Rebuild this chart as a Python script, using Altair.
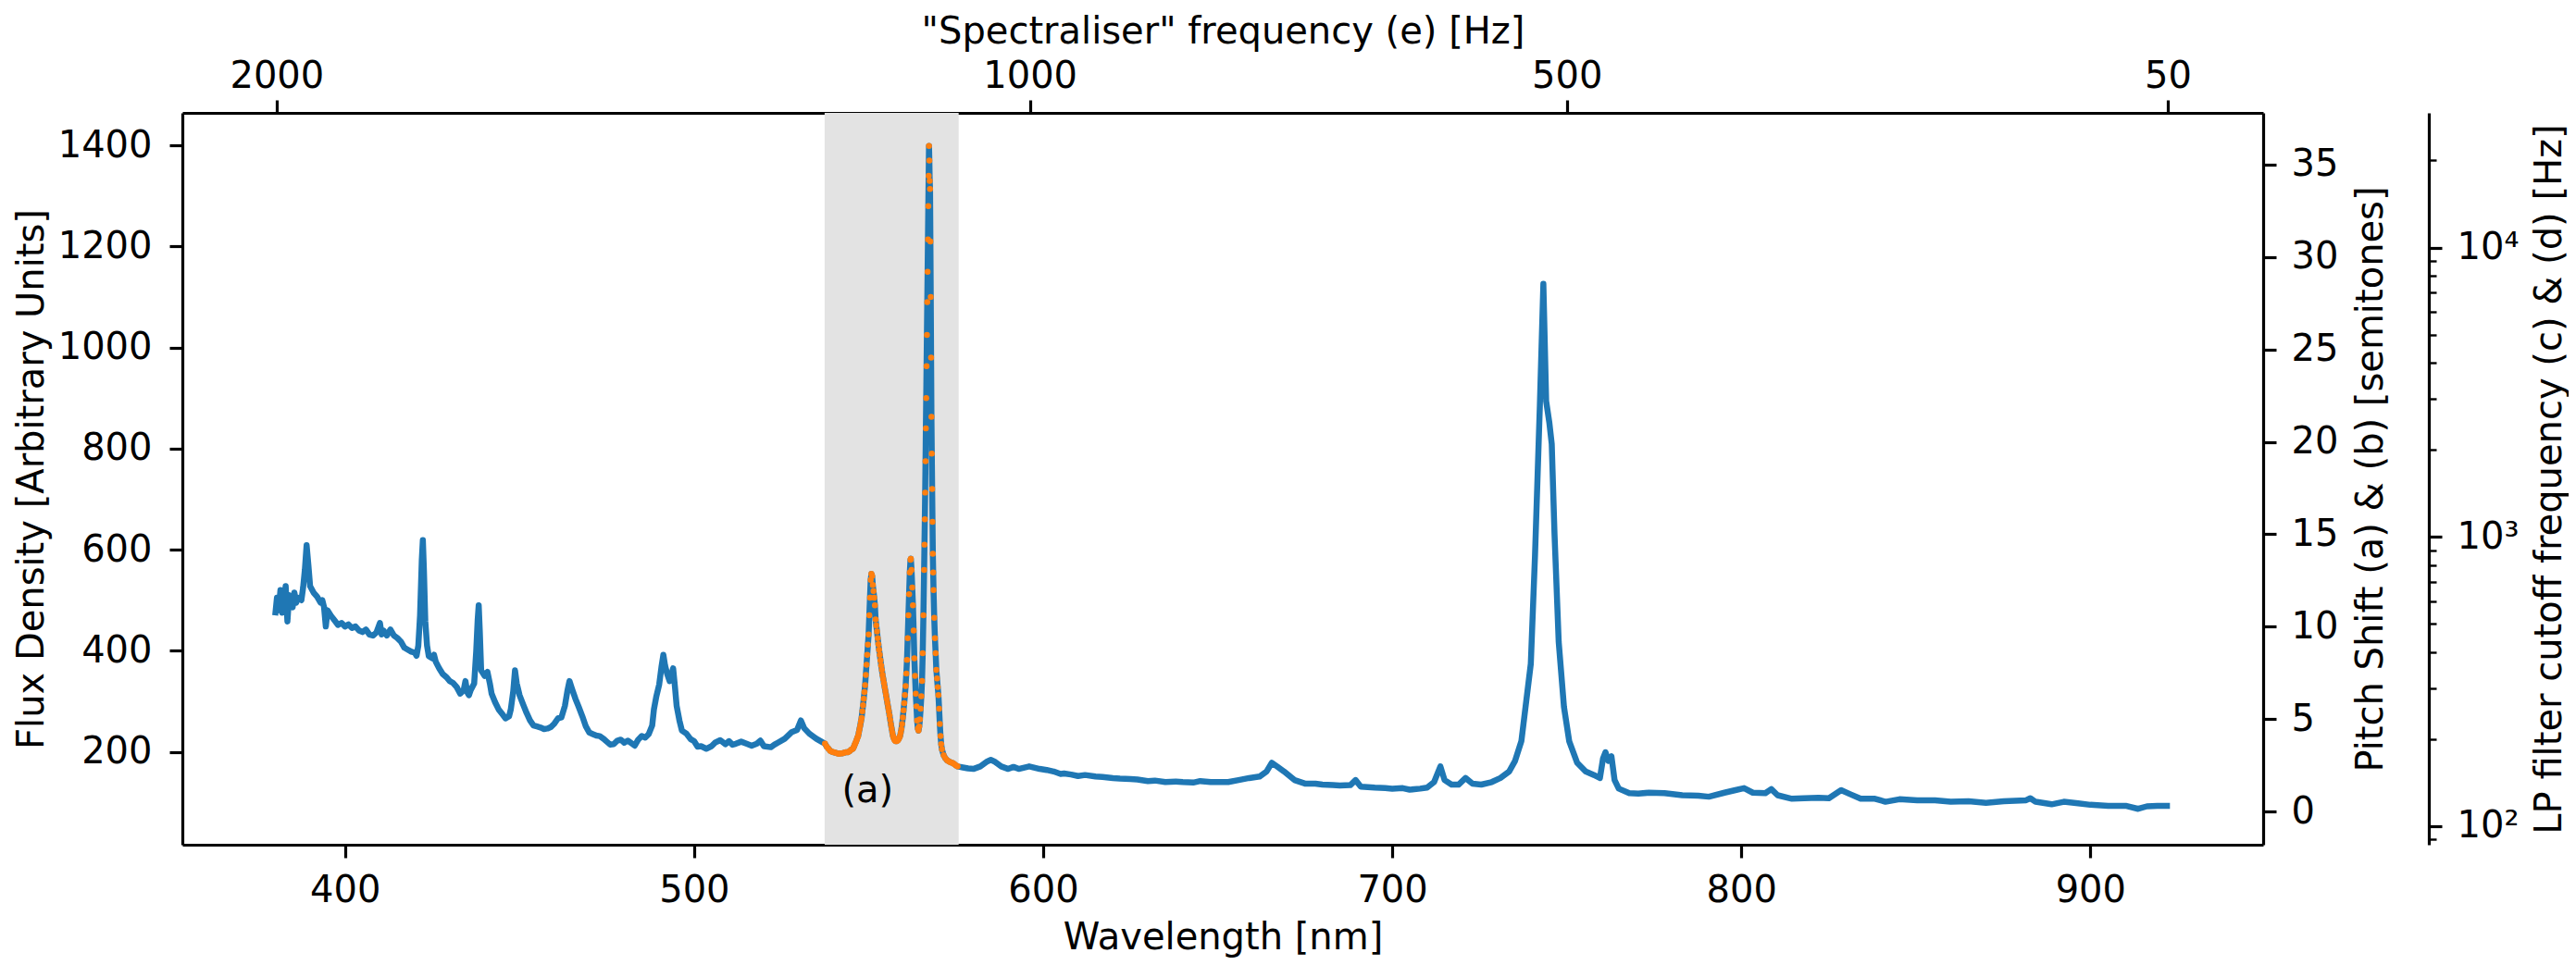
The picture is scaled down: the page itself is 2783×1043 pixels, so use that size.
import altair as alt
import pandas as pd

# ---------------- data ----------------
# spectrum left of the highlighted band
wl_left = [
    380.0, 380.5, 381.0, 381.5, 382.0, 382.5, 383.0, 383.5, 384.0, 384.5, 385.0, 385.5, 386.0, 386.5,
    387.5, 388.0, 388.5, 389.0, 389.5, 390.0, 391.0, 392.0, 393.0, 393.5, 394.0, 394.5, 395.0, 396.0,
    397.0, 398.0, 399.0, 400.0, 401.0, 402.0, 403.0, 404.0, 405.0, 406.0, 407.0, 408.0, 409.0, 410.0,
    410.5, 411.0, 412.0, 413.0, 414.0, 415.0, 416.0, 417.0, 418.0, 419.0, 420.0, 420.5, 421.0, 421.5,
    422.0, 422.3, 422.6, 423.0, 423.5, 424.0, 425.0, 425.5, 426.0, 427.0, 428.0, 429.0, 430.0, 431.0,
    432.0, 433.0, 434.0, 434.5, 435.0, 435.5, 436.0, 437.0, 437.6, 438.0, 438.3, 438.6, 439.0, 440.0,
    440.8, 441.5, 442.0, 443.0, 444.0, 445.0, 446.0, 447.0, 447.5, 448.2, 448.7, 449.2, 450.0, 451.0,
    452.0, 453.0, 454.0, 455.0, 456.0, 457.0, 458.0, 459.0, 460.0, 461.0, 462.0, 463.0, 463.7, 464.3,
    465.0, 466.0, 467.0, 468.0, 469.0, 470.0, 471.0, 472.0, 473.0, 474.0, 475.0, 476.0, 477.0, 478.0,
    479.0, 480.0, 481.0, 482.0, 483.0, 484.0, 485.0, 486.0, 487.0, 488.0, 488.5, 489.2, 490.0, 490.7,
    491.2, 491.7, 492.3, 493.0, 493.6, 494.0, 494.5, 495.0, 495.8, 496.5, 497.8, 499.0, 500.0, 501.0,
    502.0, 503.5, 505.0, 506.0, 507.5, 509.0, 510.0, 511.0, 512.0, 513.5, 515.0, 516.5, 518.0, 519.0,
    520.0, 522.0, 523.0, 524.0, 526.0, 528.0, 529.5, 530.6, 531.5, 533.0, 535.0, 536.5,
]
flux_left = [
    470, 505, 480, 520, 475, 500, 528, 458, 510, 490, 486, 515, 495, 505,
    500, 525, 560, 609, 570, 528, 515, 507, 495, 500, 486, 448, 480, 469,
    460, 451, 455, 448, 452, 445, 448, 440, 437, 442, 432, 430, 436, 455,
    432, 440, 430, 442, 430, 425, 418, 406, 402, 398, 396, 390, 410, 470,
    580, 619, 560, 458, 410, 389, 385, 392, 378, 365, 354, 348, 340, 336,
    328, 315, 322, 340, 318, 312, 322, 335, 400, 460, 490, 440, 361, 350,
    358, 335, 315, 298, 284, 275, 266, 270, 284, 320, 361, 335, 312, 294,
    277, 262, 252, 250, 248, 245, 246, 249, 256, 266, 268, 291, 320, 340,
    325, 305, 288, 270, 250, 238, 235, 232, 231, 226, 220, 214, 215, 222,
    224, 218, 222, 217, 212, 224, 231, 228, 235, 252, 284, 310, 333, 370,
    392, 370, 354, 340, 355, 365, 330, 291, 262, 242, 236, 225, 221, 210,
    211, 206, 211, 218, 223, 215, 221, 214, 216, 220, 216, 212, 216, 222,
    211, 209, 214, 218, 226, 239, 243, 262, 247, 236, 226, 220,
]

# spectrum samples inside the highlighted band (drawn again as orange dots)
wl_band = [
    537.5, 538.0, 538.5, 539.0, 539.5, 540.0, 540.5, 541.0, 541.5, 542.0, 542.5, 543.0, 543.5, 544.0,
    544.5, 545.0, 545.5, 545.8, 546.0, 546.2, 546.4, 546.6, 546.8, 547.0, 547.2, 547.4, 547.6, 547.8,
    548.0, 548.2, 548.4, 548.6, 548.8, 549.0, 549.2, 549.4, 549.6, 549.8, 550.0, 550.2, 550.4, 550.6,
    550.8, 551.0, 551.2, 551.4, 551.6, 551.8, 552.0, 552.2, 552.4, 552.6, 552.8, 553.0, 553.2, 553.4,
    553.6, 553.8, 554.0, 554.2, 554.4, 554.6, 554.8, 555.0, 555.2, 555.4, 555.6, 555.8, 556.0, 556.2,
    556.4, 556.6, 556.8, 557.0, 557.2, 557.4, 557.6, 557.8, 558.0, 558.2, 558.4, 558.6, 558.8, 559.0,
    559.2, 559.4, 559.6, 559.8, 560.0, 560.2, 560.4, 560.6, 560.8, 561.0, 561.2, 561.4, 561.6, 561.8,
    562.0, 562.1, 562.3, 562.5, 562.7, 562.9, 563.1, 563.3, 563.5, 563.7, 563.9, 564.1, 564.3, 564.5,
    564.7, 564.9, 565.1, 565.3, 565.5, 565.7, 565.9, 566.0, 566.1, 566.2, 566.3, 566.4, 566.5, 566.6,
    566.7, 566.8, 566.9, 567.0, 567.1, 567.2, 567.3, 567.4, 567.5, 567.6, 567.7, 567.8, 567.9, 568.0,
    568.1, 568.2, 568.3, 568.4, 568.5, 568.6, 568.8, 569.0, 569.2, 569.4, 569.6, 569.8, 570.0, 570.2,
    570.4, 570.6, 570.8, 571.0, 571.5, 572.0, 572.5, 573.0, 573.5, 574.0, 574.5, 575.0, 575.5,
]
flux_band = [
    216, 210, 206, 202, 200, 199, 198, 197, 196, 197, 197, 198, 199, 199,
    201, 204, 206, 210, 214, 217, 220, 224, 228, 231, 238, 245, 252, 260,
    267, 280, 292, 305, 318, 332, 352, 372, 392, 412, 432, 470, 505, 540,
    552, 548, 530, 518, 505, 490, 462, 450, 438, 425, 413, 402, 392, 381,
    371, 362, 352, 344, 336, 328, 320, 312, 304, 296, 288, 280, 272, 263,
    254, 246, 238, 231, 227, 224, 222, 221, 221, 222, 223, 225, 228, 231,
    238, 245, 255, 268, 282, 296, 312, 330, 355, 382, 425, 470, 512, 555,
    580, 582, 560, 525, 490, 440, 385, 350, 315, 290, 262, 246, 242, 250,
    264, 285, 310, 340, 395, 470, 560, 610, 660, 713, 775, 840, 900, 963,
    1025, 1090, 1150, 1214, 1280, 1340, 1399, 1370, 1330, 1314, 1210, 1100, 980, 863,
    790, 720, 655, 592, 555, 520, 465, 425, 395, 362, 345, 328, 312, 285,
    255, 231, 215, 205, 193, 187, 183, 181, 179, 178, 176, 173, 171,
]

# spectrum right of the highlighted band
wl_right = [
    577.0, 578.5, 580.0, 582.0, 584.0, 585.0, 586.0, 588.0, 590.0, 591.5, 593.0, 596.0, 599.0, 601.0,
    603.0, 605.0, 606.0, 608.0, 610.0, 612.0, 615.0, 617.0, 620.0, 622.0, 625.0, 627.0, 630.0, 632.0,
    635.0, 638.0, 640.0, 643.0, 645.0, 648.0, 650.0, 653.0, 656.0, 659.0, 662.0, 664.0, 665.5, 667.0,
    669.0, 672.0, 675.0, 678.0, 680.0, 683.0, 685.0, 688.0, 689.5, 691.0, 693.0, 695.0, 698.0, 700.0,
    703.0, 705.0, 708.0, 710.0, 712.0, 713.8, 715.0, 717.0, 719.0, 721.0, 723.0, 725.5, 728.5, 731.0,
    733.5, 735.2, 737.0, 738.2, 739.7, 740.9, 742.3, 743.3, 744.1, 745.0, 745.7, 746.5, 747.7, 749.2,
    750.7, 753.0, 755.4, 757.8, 759.5, 760.4, 761.1, 761.9, 762.8, 763.7, 764.9, 767.9, 770.5, 773.5,
    778.0, 783.1, 787.7, 790.7, 795.2, 798.3, 800.8, 803.3, 806.9, 808.6, 810.4, 814.5, 818.0, 822.1,
    825.1, 828.6, 831.2, 834.2, 838.3, 841.3, 845.3, 850.4, 855.5, 860.0, 865.1, 870.1, 875.2, 881.6,
    882.8, 884.3, 888.9, 892.4, 896.5, 900.0, 905.1, 910.1, 913.7, 916.2, 919.2, 922.8,
]
flux_right = [
    169, 167, 166, 171, 181, 184, 181, 171, 166, 170, 166, 171, 166, 164,
    161, 156, 157, 155, 152, 154, 151, 150, 148, 147, 146, 145, 142, 143,
    140, 141, 140, 139, 142, 140, 140, 140, 144, 148, 151, 161, 178, 171,
    161, 144, 137, 137, 135, 134, 133, 134, 144, 131, 130, 129, 128, 127,
    128, 125, 127, 129, 140, 171, 144, 135, 135, 148, 137, 135, 140, 148,
    161, 182, 221, 289, 374, 587, 886, 1126, 894, 852, 809, 630, 417, 289,
    221, 178, 161, 154, 148, 187, 199, 182, 191, 144, 127, 118, 117, 119,
    118, 114, 113, 111, 119, 124, 128, 119, 118, 126, 114, 107, 108, 109,
    108, 124, 116, 107, 107, 101, 106, 104, 104, 101, 102, 99, 102, 104,
    108, 101, 96, 101, 98, 95, 93, 93, 87, 92, 93, 93,
]

band_start_nm = [537.4]
band_end_nm = [575.8]

annotation_text = ["(a)"]
annotation_nm = [549.7]
annotation_flux = [123]

x_ticks_nm = [400, 500, 600, 700, 800, 900]
y_ticks_flux = [200, 400, 600, 800, 1000, 1200, 1400]
top_ticks_nm = [380.4, 596.2, 750.0, 922.2]
top_tick_labels = ["2000", "1000", "500", "50"]
pitch_ticks = [0, 5, 10, 15, 20, 25, 30, 35]
lp_major_ticks = [100, 1000, 10000]
lp_major_labels = ["10²", "10³", "10⁴"]
lp_minor_ticks = [90, 200, 300, 400, 500, 600, 700, 800, 900,
                  2000, 3000, 4000, 5000, 6000, 7000, 8000, 9000, 20000]

X_DOMAIN = [353.4, 949.5]
FLUX_DOMAIN = [16, 1464.5]
PITCH_DOMAIN = [-1.8, 37.8]
LP_DOMAIN = [86.3, 29200]

FONT = "DejaVu Sans"
BLUE = "#1f77b4"
ORANGE = "#ff7f0e"


def label_expr(values, labels):
    expr = "''"
    for v, lab in reversed(list(zip(values, labels))):
        expr = f"abs(datum.value - {v}) < {abs(v) * 1e-4 + 1e-6} ? '{lab}' : " + expr
    return expr


spec = pd.DataFrame({"wl": wl_left + wl_band + wl_right,
                     "flux": flux_left + flux_band + flux_right})
orange = pd.DataFrame({"wl": wl_band, "flux": flux_band})
band_df = pd.DataFrame({"start": band_start_nm, "end": band_end_nm})
ann_df = pd.DataFrame({"label": annotation_text, "wl": annotation_nm, "flux": annotation_flux})
top_df = pd.DataFrame({"nm": top_ticks_nm})
pitch_df = pd.DataFrame({"v": pitch_ticks})
lpM_df = pd.DataFrame({"v": lp_major_ticks})
lpm_df = pd.DataFrame({"v": lp_minor_ticks})

xs = alt.Scale(domain=X_DOMAIN, nice=False, zero=False)
ys = alt.Scale(domain=FLUX_DOMAIN, nice=False, zero=False)
ps = alt.Scale(domain=PITCH_DOMAIN, nice=False, zero=False)
ls = alt.Scale(type="log", domain=LP_DOMAIN, nice=False)

band = alt.Chart(band_df).mark_rect(color="#e3e3e3").encode(
    x=alt.X("start:Q", scale=xs, axis=None),
    x2="end:Q",
)

line = alt.Chart(spec).mark_line(color=BLUE, strokeWidth=6.5, strokeJoin="round").encode(
    x=alt.X("wl:Q", scale=xs,
            axis=alt.Axis(orient="bottom", values=x_ticks_nm, title="Wavelength [nm]",
                          titlePadding=11)),
    y=alt.Y("flux:Q", scale=ys,
            axis=alt.Axis(orient="left", values=y_ticks_flux, format="d",
                          title="Flux Density [Arbitrary Units]", labelPadding=19,
                          titlePadding=8)),
)

dots = alt.Chart(orange).mark_circle(color=ORANGE, size=42, opacity=1).encode(
    x=alt.X("wl:Q", scale=xs, axis=None),
    y=alt.Y("flux:Q", scale=ys, axis=None),
)

text = alt.Chart(ann_df).mark_text(font=FONT, fontSize=40, color="black",
                                   align="center", baseline="middle").encode(
    x=alt.X("wl:Q", scale=xs, axis=None),
    y=alt.Y("flux:Q", scale=ys, axis=None),
    text="label:N",
)

top = alt.Chart(top_df).mark_point(opacity=0).encode(
    x=alt.X("nm:Q", scale=xs,
            axis=alt.Axis(orient="top", values=top_ticks_nm,
                          labelExpr=label_expr(top_ticks_nm, top_tick_labels),
                          labelPadding=6,
                          title='"Spectraliser" frequency (e) [Hz]',
                          titleBaseline="alphabetic", titleY=-76)),
)

pitch = alt.Chart(pitch_df).mark_point(opacity=0).encode(
    y=alt.Y("v:Q", scale=ps,
            axis=alt.Axis(orient="right", values=pitch_ticks,
                          title="Pitch Shift (a) & (b) [semitones]",
                          titleAngle=270, titleBaseline="top", labelPadding=16,
                          titlePadding=16)),
)

lp_major = alt.Chart(lpM_df).mark_point(opacity=0).encode(
    y=alt.Y("v:Q", scale=ls,
            axis=alt.Axis(orient="right", offset=179, values=lp_major_ticks,
                          labelExpr=label_expr(lp_major_ticks, lp_major_labels),
                          title="LP filter cutoff frequency (c) & (d) [Hz]",
                          titleAngle=270, titleBaseline="top", labelPadding=16,
                          titlePadding=14)),
)

lp_minor = alt.Chart(lpm_df).mark_point(opacity=0).encode(
    y=alt.Y("v:Q", scale=ls,
            axis=alt.Axis(orient="right", offset=179, values=lp_minor_ticks,
                          labels=False, domain=False, tickSize=8, tickWidth=2.4,
                          title=None)),
)

chart = (
    alt.layer(band, line, dots, text, top, pitch, lp_major, lp_minor)
    .resolve_scale(x="independent", y="independent")
    .properties(
        width=2248, height=791,
        autosize=alt.AutoSizeParams(type="none"),
        padding={"left": 189, "top": 114, "right": 330, "bottom": 122},
        background="white",
    )
    .configure_axis(
        domainColor="black", domainWidth=3.2, tickColor="black", tickWidth=3.2,
        tickSize=14, labelFont=FONT, labelFontSize=40, labelColor="black",
        titleFont=FONT, titleFontSize=40, titleFontWeight="normal", titleColor="black",
        grid=False, labelPadding=15, titlePadding=16, labelFlush=False, zindex=1,
    )
    .configure_view(stroke=None)
)

chart.save("out.html", embed_options={"renderer": "svg", "actions": False})
